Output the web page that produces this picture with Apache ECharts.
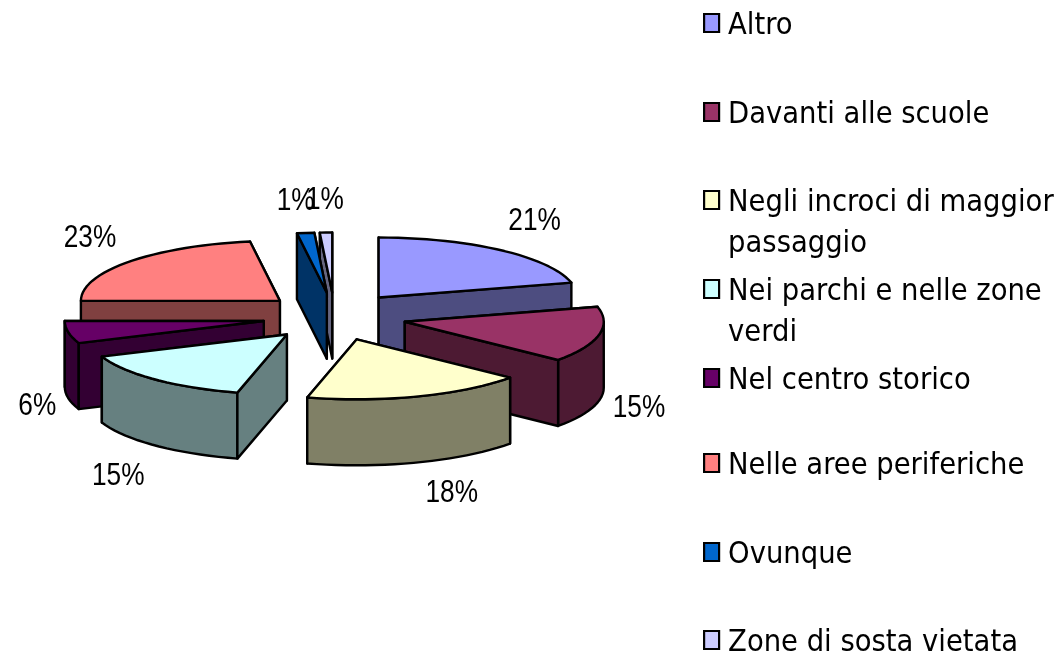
<!DOCTYPE html>
<html>
<head>
<meta charset="utf-8">
<style>html,body{margin:0;padding:0;background:#fff}#c{width:1059px;height:657px}</style>
<script src="https://cdn.jsdelivr.net/npm/echarts@6/dist/echarts.min.js"></script>
</head>
<body>
<div id="c"></div>
<script>
// Chart data
const categories = ['Altro','Davanti alle scuole','Negli incroci di maggior\npassaggio','Nei parchi e nelle zone\nverdi','Nel centro storico','Nelle aree periferiche','Ovunque','Zone di sosta vietata'];
const values = [21,15,18,15,6,22.6,1.4,1];
const colors = ['#9999FF','#993366','#FFFFCC','#CCFFFF','#660066','#FF8080','#0066CC','#CCCCFF'];

// Layout of the projected pie (separate from the data)
const cx = 334.5, cy = 316.5, rx = 199, ry = 60, depth = 66, explodeX = 72, explodeY = 24;
const drawOrder = [0,7,6,5,4,1,3,2];
const labelOffsets = [[34,-29],[40,73],[33.5,97],[-37,96.5],[-31,74],[-39,-24],[-10,-32],[-1,-32]];
const legendCenters = [23,112,200,289,378,463,552,640];
const LINE = 41;
const SYMBOL_ICON = 'path://M0,0L15,0L15,18L0,18ZM0,24L0,24';

const total = values.reduce((a,b)=>a+b,0);
const starts = []; values.reduce((acc,v,i)=>{starts[i]=acc;return acc+v;},0);
const rad = v => v/total*Math.PI*2;
const half = c => { const n=parseInt(c.slice(1),16);
  const f=x=>Math.round(x/2).toString(16).padStart(2,'0');
  return '#'+f(n>>16)+f((n>>8)&255)+f(n&255); };

function sliceShape(i){
  const a0=rad(starts[i]), a1=rad(starts[i]+values[i]), mid=(a0+a1)/2;
  const ax=cx+explodeX*Math.sin(mid), ay=cy-explodeY*Math.cos(mid);
  const pt=a=>[ax+rx*Math.sin(a), ay-ry*Math.cos(a)];
  const down=p=>[p[0],p[1]+depth];
  const arc=(s,e)=>{const n=Math.max(2,Math.ceil((e-s)/0.05));const r=[];for(let k=0;k<=n;k++)r.push(pt(s+(e-s)*k/n));return r;};
  const apex=[ax,ay];
  const lineStyle={stroke:'#000',lineWidth:2.4,lineJoin:'round'};
  const side=half(colors[i]);
  const poly=(pts,fill)=>({type:'polygon',shape:{points:pts},style:Object.assign({fill},lineStyle)});
  const cut=a=>{const p=pt(a);return {pts:[apex,p,down(p),down(apex)],p};};
  const M=pt(mid);
  const isFront=p=>{ // body lies above the edge apex->p
    const dx=p[0]-ax; if(Math.abs(dx)<1e-6) return false;
    const yOnLine=ay+(p[1]-ay)*(M[0]-ax)/dx;
    return M[1]<yOnLine;
  };
  const faces=[cut(a0),cut(a1)];
  const back=faces.filter(f=>!isFront(f.p)).map(f=>poly(f.pts,side));
  const front=faces.filter(f=>isFront(f.p)).map(f=>poly(f.pts,side));
  const PI=Math.PI, ws=Math.max(a0,PI/2), we=Math.min(a1,1.5*PI);
  const wall=[];
  if(we>ws){const top=arc(ws,we);wall.push(poly(top.concat(top.slice().reverse().map(down)),side));}
  const topFace=poly([apex].concat(arc(a0,a1)),colors[i]);
  const off=labelOffsets[i];
  const label={type:'text',x:M[0]+off[0],y:M[1]+off[1],scaleX:0.82,
    style:{text:Math.round(values[i])+'%',x:0,y:0,
    fill:'#000',font:'32px "Liberation Sans",sans-serif',align:'center',verticalAlign:'middle'}};
  return back.concat(wall,front,[topFace,label]);
}

const series = categories.map((name,i)=>({
  type:'custom', name, coordinateSystem:'none', z:2+drawOrder.indexOf(i),
  itemStyle:{color:colors[i]}, silent:true, animation:false,
  data:[values[i]],
  renderItem:()=>({type:'group',children:sliceShape(i)})
}));

const legends = categories.map((name,i)=>{
  const extra=name.split('\n').length-1;
  return {
    data:[{name,icon:SYMBOL_ICON,itemStyle:{color:colors[i],borderColor:'#000',borderWidth:2.2}}],
    orient:'vertical', left:703, top:legendCenters[i]+3-LINE/2-(extra?LINE:0),
    padding:0, itemWidth:15, itemHeight:24, selectedMode:false,
    formatter:n=>(n.indexOf('\n')>=0?'\n':'')+n,
    textStyle:{color:'#000',fontFamily:'"DejaVu Sans Condensed","DejaVu Sans",sans-serif',fontSize:30.5,lineHeight:LINE,
      padding:[0,0,0,4]}
  };
});

const chart = echarts.init(document.getElementById('c'),null,{renderer:'canvas'});
chart.setOption({backgroundColor:'#fff',animation:false,legend:legends,series});
</script>
</body>
</html>
